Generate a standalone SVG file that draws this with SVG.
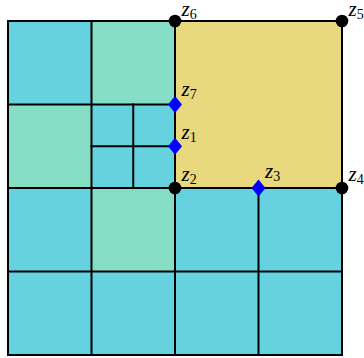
<svg xmlns="http://www.w3.org/2000/svg" width="364" height="358" viewBox="0 0 364 358">
<style>
.b{fill:#66D2E0}
.g{fill:#86DDC5}
.y{fill:#E8D87E}
.grid{stroke:#000;stroke-width:2;fill:none;stroke-linecap:square}
.dot{fill:#000}
.dia{fill:#0000FF}
.lab{font-family:"Liberation Serif",serif;font-style:italic;font-size:21px;fill:#000}
.sub{font-style:normal;font-size:14px}
</style>
<defs>
<polygon id="diam" points="0,-8.5 7,0 0,8.5 -7,0"/>
</defs>
<g id="cells">
<rect class="b" x="8" y="21" width="83.5" height="83.5"/>
<rect class="g" x="91.5" y="21" width="83.5" height="83.5"/>
<rect class="y" x="175" y="21" width="167" height="167"/>
<rect class="g" x="8" y="104.5" width="83.5" height="83.5"/>
<rect class="b" x="91.5" y="104.5" width="83.5" height="83.5"/>
<rect class="b" x="8" y="188" width="83.5" height="83.5"/>
<rect class="g" x="91.5" y="188" width="83.5" height="83.5"/>
<rect class="b" x="175" y="188" width="167" height="83.5"/>
<rect class="b" x="8" y="271.5" width="334" height="83.5"/>
</g>
<g id="connectors" class="grid">
<rect x="8" y="21" width="334" height="334"/>
<line x1="8" y1="104.5" x2="175" y2="104.5"/>
<line x1="8" y1="188" x2="342" y2="188"/>
<line x1="8" y1="271.5" x2="342" y2="271.5"/>
<line x1="91.5" y1="21" x2="91.5" y2="355"/>
<line x1="175" y1="21" x2="175" y2="355"/>
<line x1="258.5" y1="188" x2="258.5" y2="355"/>
<line x1="133.25" y1="104.5" x2="133.25" y2="188"/>
<line x1="91.5" y1="146.25" x2="175" y2="146.25"/>
</g>
<g id="z6"><circle class="dot" cx="175" cy="21" r="6.3"/><text class="lab" x="181.5" y="15.5">z<tspan class="sub" dy="3">6</tspan></text></g>
<g id="z5"><circle class="dot" cx="342" cy="21" r="6.3"/><text class="lab" x="348.5" y="15.5">z<tspan class="sub" dy="3">5</tspan></text></g>
<g id="z2"><circle class="dot" cx="175" cy="188" r="6.3"/><text class="lab" x="181.5" y="181">z<tspan class="sub" dy="3">2</tspan></text></g>
<g id="z4"><circle class="dot" cx="342" cy="188" r="6.3"/><text class="lab" x="348.5" y="181">z<tspan class="sub" dy="3">4</tspan></text></g>
<g id="z7"><use href="#diam" class="dia" x="175" y="104.5"/><text class="lab" x="181.5" y="96">z<tspan class="sub" dy="3">7</tspan></text></g>
<g id="z1"><use href="#diam" class="dia" x="175" y="146.25"/><text class="lab" x="181.5" y="138.5">z<tspan class="sub" dy="3">1</tspan></text></g>
<g id="z3"><use href="#diam" class="dia" x="258.5" y="188"/><text class="lab" x="265" y="178">z<tspan class="sub" dy="3">3</tspan></text></g>
</svg>
